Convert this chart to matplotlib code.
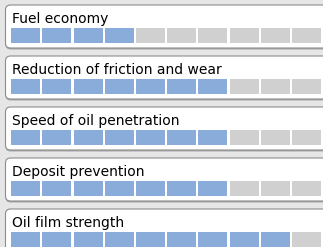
import numpy as np
from matplotlib import pyplot as plt
from matplotlib.patches import FancyBboxPatch

labels = ["Fuel economy", "Reduction of friction and wear", "Speed of oil penetration",
          "Deposit prevention", "Oil film strength"]
ratings = [4, 7, 7, 7, 9]
n_seg = 10

W, H = 323, 247
pitch_x, pitch_y = 31.25, 51.0  # px per segment / per row
x0_px, y0_px = 11, 5            # first segment left, first panel top

fig = plt.figure(figsize=(W / 100, H / 100), dpi=100, facecolor="#e6e6e6")
ax = fig.add_axes([0, 0, 1, 1])
ax.set_facecolor("#e6e6e6")
ax.set_xlim(-x0_px / pitch_x, (W - x0_px) / pitch_x)
ax.set_ylim((H - y0_px) / pitch_y, -y0_px / pitch_y)
ax.axis("off")

aspect = pitch_x / pitch_y
left = -5.5 / pitch_x
right = (335 - x0_px) / pitch_x
ph = 43 / pitch_y

for r, (lab, val) in enumerate(zip(labels, ratings)):
    # shadow
    sh = FancyBboxPatch((left, r + 1.5 / pitch_y), right - left, ph,
                        boxstyle="round,pad=0,rounding_size=0.16", mutation_aspect=aspect,
                        fc="#a8a8a8", ec="none", zorder=1)
    ax.add_patch(sh)
    box = FancyBboxPatch((left, r), right - left, ph,
                         boxstyle="round,pad=0,rounding_size=0.16", mutation_aspect=aspect,
                         fc="white", ec="#8c8c8c", lw=0.8, zorder=2)
    ax.add_patch(box)
    ax.text(0.03, r + 17.5 / pitch_y, lab, fontsize=10, color="#000000",
            ha="left", va="baseline", zorder=4)
    idx = np.arange(n_seg)
    colors = ["#8aacdb" if i < val else "#d0d0d0" for i in idx]
    ax.bar(idx, 15 / pitch_y, bottom=r + 23 / pitch_y, width=29 / pitch_x,
           align="edge", color=colors, zorder=3)

plt.savefig("out.png", dpi=100, facecolor=fig.get_facecolor())
